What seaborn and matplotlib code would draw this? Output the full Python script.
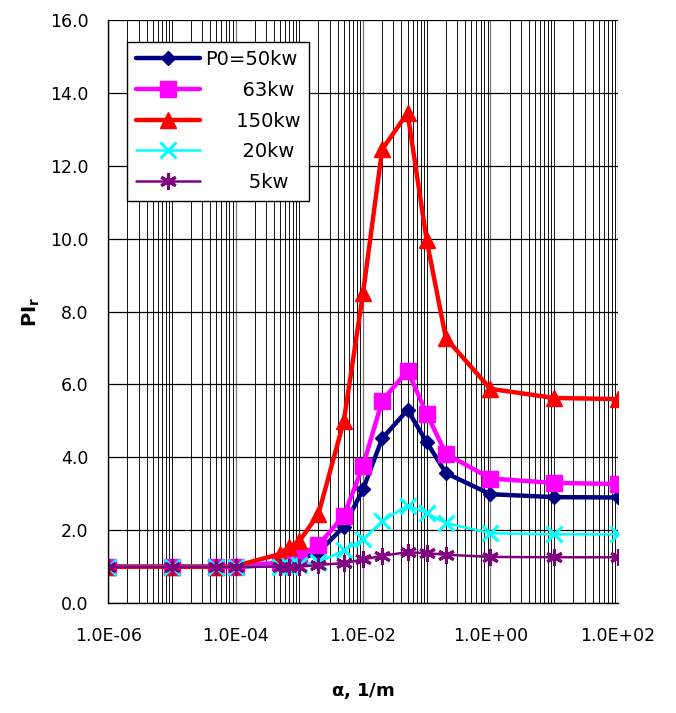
import matplotlib
matplotlib.use("Agg")
import matplotlib.pyplot as plt
import seaborn as sns
import numpy as np
import pandas as pd
from matplotlib.ticker import LogLocator, FixedLocator, FuncFormatter

# ---- data ----
alpha = [1e-6, 1e-5, 5e-5, 1e-4, 5e-4, 7e-4, 1e-3, 2e-3, 5e-3, 1e-2, 2e-2,
         5e-2, 1e-1, 2e-1, 1.0, 10.0, 100.0]
p50 = [1.0, 1.0, 1.0, 1.0, 1.05, 1.1, 1.2, 1.4, 2.1, 3.12, 4.52, 5.3, 4.42,
       3.57, 2.99, 2.91, 2.9]
p63 = [1.0, 1.0, 1.0, 1.0, 1.12, 1.2, 1.3, 1.6, 2.4, 3.77, 5.55, 6.38, 5.2,
       4.1, 3.42, 3.3, 3.27]
p150 = [1.0, 1.0, 1.0, 1.02, 1.35, 1.55, 1.7, 2.45, 5.0, 8.5, 12.45, 13.45,
        9.95, 7.27, 5.88, 5.63, 5.6]
p20 = [1.0, 1.0, 1.0, 1.0, 1.0, 1.02, 1.05, 1.12, 1.45, 1.75, 2.25, 2.68,
       2.47, 2.2, 1.92, 1.89, 1.89]
p5 = [1.0, 1.0, 1.0, 1.0, 1.0, 1.0, 1.0, 1.05, 1.1, 1.2, 1.3, 1.4, 1.37,
      1.33, 1.27, 1.26, 1.26]
labels = ["P0=50kw", "      63kw", "     150kw", "      20kw", "       5kw"]
y_ticks = [0, 2, 4, 6, 8, 10, 12, 14, 16]

series = [p50, p63, p150, p20, p5]
colors = ["#000080", "#FF00FF", "#FF0000", "#00FFFF", "#800080"]
markers = ["D", "s", "^", "x", (6, 2, 0)]
msizes = [7, 11, 11, 11, 12]
lws = [3.2, 3.2, 3.2, 1.8, 1.8]
mews = [1, 1, 1, 2.2, 2.2]

sns.set_style("white")
plt.rcParams["font.family"] = ["DejaVu Sans"]
plt.rcParams["mathtext.fontset"] = "dejavusans"
plt.rcParams["text.color"] = "black"
plt.rcParams["axes.labelcolor"] = "black"

fig = plt.figure(figsize=(6.76, 7.13), dpi=100)
ax = fig.add_axes([0.160, 0.154, 0.754, 0.818])

for vals, lab, c, m, ms, lw, mew in zip(series, labels, colors, markers, msizes, lws, mews):
    df = pd.DataFrame({"alpha": alpha, "PI": vals})
    sns.lineplot(data=df, x="alpha", y="PI", ax=ax, color=c, marker=m,
                 markersize=ms, linewidth=lw, markeredgecolor=c,
                 markeredgewidth=mew, label=lab, sort=False, estimator=None)

ax.set_xscale("log")
ax.set_xlim(1e-6, 1e2)
ax.set_ylim(0, 16)
ax.set_yticks(y_ticks)
ax.yaxis.set_major_formatter(FuncFormatter(lambda v, p: f"{v:.1f}"))
ax.xaxis.set_major_locator(FixedLocator([1e-6, 1e-4, 1e-2, 1e0, 1e2]))
ax.xaxis.set_minor_locator(LogLocator(base=10, subs=np.arange(1, 10), numticks=50))
ax.xaxis.set_minor_formatter(FuncFormatter(lambda v, p: ""))
ax.xaxis.set_major_formatter(FuncFormatter(lambda v, p: f"{v:.1E}"))

ax.grid(True, which="major", axis="y", color="black", linewidth=0.9)
ax.grid(True, which="minor", axis="x", color="#111111", linewidth=0.7)
ax.grid(True, which="major", axis="x", color="#777777", linewidth=0.9)
ax.set_axisbelow(True)

for s in ax.spines.values():
    s.set_visible(False)
for side in ("left", "bottom"):
    ax.spines[side].set_visible(True)
    ax.spines[side].set_color("black")
    ax.spines[side].set_linewidth(1.0)

ax.tick_params(axis="both", which="major", direction="out", length=5,
               width=1, color="black", labelsize=12.5, labelcolor="black")
ax.tick_params(axis="x", which="minor", length=0)
ax.tick_params(axis="x", which="major", pad=12)
ax.tick_params(axis="y", which="major", pad=9)

ax.set_xlabel(r"$\mathbf{\alpha}$, 1/m", fontsize=13, fontweight="bold", labelpad=26)
ax.set_ylabel(r"$\mathbf{PI}_\mathbf{r}$", fontsize=14, labelpad=6)

leg = ax.legend(loc="upper left", bbox_to_anchor=(0.037, 0.963), fontsize=14,
                frameon=True, fancybox=False, framealpha=1, edgecolor="black",
                handlelength=3.3, handletextpad=0.25, labelspacing=0.6,
                borderpad=0.45, borderaxespad=0)
leg.get_frame().set_linewidth(1.0)

fig.savefig("out.png", dpi=100)
